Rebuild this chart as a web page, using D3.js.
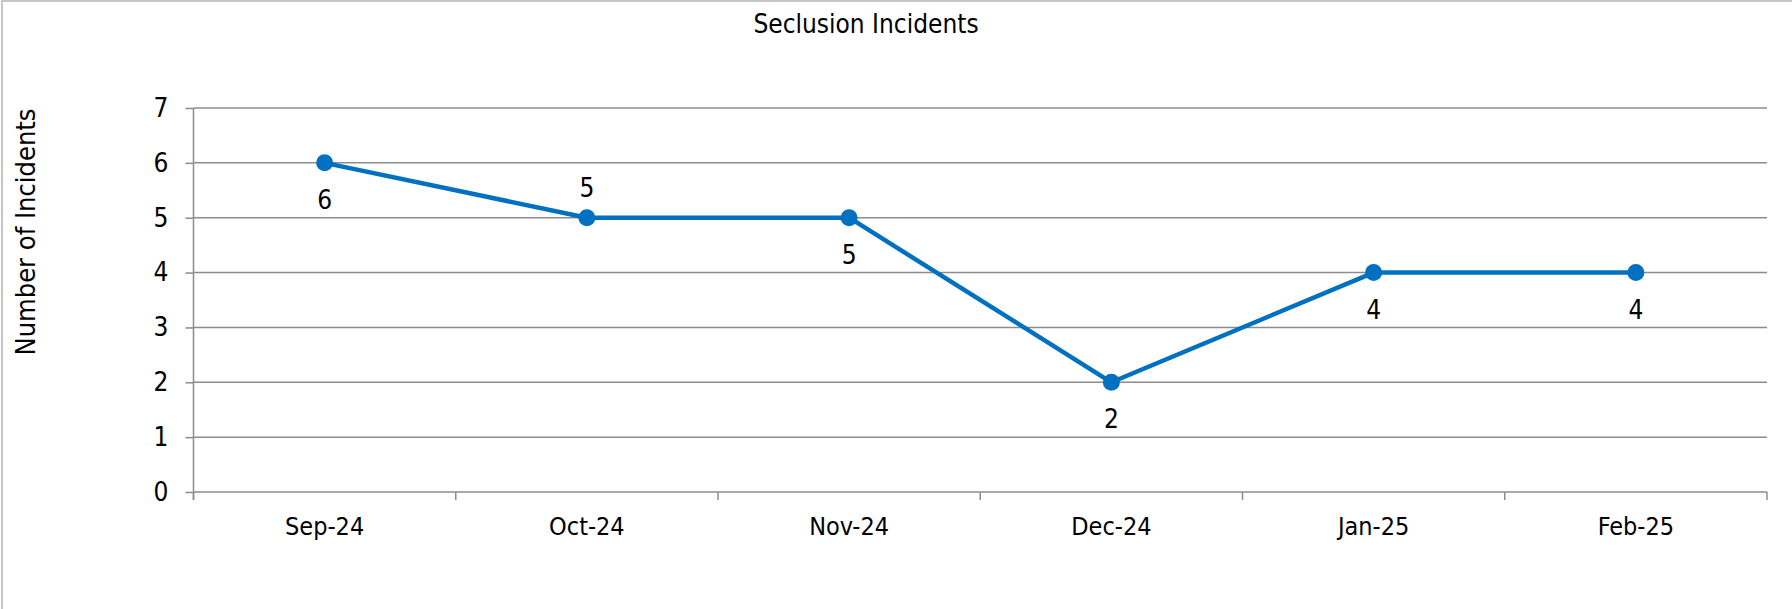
<!DOCTYPE html>
<html>
<head>
<meta charset="utf-8">
<script src="https://cdn.jsdelivr.net/npm/d3@7"></script>
<style>
  body { margin: 0; background: #fff; overflow: hidden; }
  svg { display: block; }
  text { font-family: "DejaVu Sans Condensed", "DejaVu Sans", sans-serif; font-stretch: condensed; fill: #000; }
</style>
</head>
<body>
<div id="chart"></div>
<script>
// data
var months = ["Sep-24", "Oct-24", "Nov-24", "Dec-24", "Jan-25", "Feb-25"];
var incidents = [6, 5, 5, 2, 4, 4];
var labelAbove = [false, true, false, false, false, false];
var yTicks = [0, 1, 2, 3, 4, 5, 6, 7];

var svgWidth = 1792, svgHeight = 609;
var margin = {top: 108, right: 25, bottom: 117, left: 193.5};
var innerWidth = svgWidth - margin.left - margin.right;
var innerHeight = svgHeight - margin.top - margin.bottom;
var lineColor = "#0070c0";
var gridColor = "#8c8c8c";

var svg = d3.select("#chart").append("svg")
    .attr("width", svgWidth)
    .attr("height", svgHeight);

// chart frame, only left and top edge show in the original
svg.append("path")
    .attr("d", "M2," + svgHeight + " L2,1 L" + svgWidth + ",1")
    .attr("fill", "none")
    .attr("stroke", "#b4b4b4")
    .attr("stroke-width", 1.5);

svg.append("text")
    .attr("x", 866)
    .attr("y", 33)
    .attr("text-anchor", "middle")
    .style("font-size", "26px")
    .text("Seclusion Incidents");

svg.append("text")
    .attr("transform", "translate(26," + 232 + ") rotate(-90)")
    .attr("text-anchor", "middle")
    .attr("dy", ".35em")
    .style("font-size", "27px")
    .text("Number of Incidents");

var g = svg.append("g")
    .attr("transform", "translate(" + margin.left + "," + margin.top + ")");

var xScale = d3.scaleBand()
    .domain(months)
    .range([0, innerWidth]);

var yScale = d3.scaleLinear()
    .domain([0, 7])
    .range([innerHeight, 0]);

// gridlines
g.append("g")
    .selectAll("line")
    .data(yTicks)
    .enter().append("line")
    .attr("x1", 0)
    .attr("x2", innerWidth)
    .attr("y1", d => yScale(d))
    .attr("y2", d => yScale(d))
    .attr("stroke", gridColor)
    .attr("stroke-width", 1.5);

var yAxis = d3.axisLeft(yScale)
    .tickValues(yTicks)
    .tickSize(8)
    .tickPadding(17)
    .tickFormat(d3.format("d"));

var yAxisG = g.append("g").call(yAxis);
yAxisG.select(".domain").remove();
yAxisG.selectAll(".tick line").attr("stroke", gridColor).attr("stroke-width", 1.5);
yAxisG.selectAll(".tick text").style("font-size", "26px");

// vertical axis line
g.append("line")
    .attr("x1", 0).attr("x2", 0)
    .attr("y1", 0).attr("y2", innerHeight + 8)
    .attr("stroke", gridColor)
    .attr("stroke-width", 1.5);

// category boundary ticks
var bounds = months.map(m => xScale(m)).concat([innerWidth]);
g.append("g")
    .selectAll("line")
    .data(bounds)
    .enter().append("line")
    .attr("x1", d => d).attr("x2", d => d)
    .attr("y1", innerHeight).attr("y2", innerHeight + 8)
    .attr("stroke", gridColor)
    .attr("stroke-width", 1.5);

g.append("g")
    .selectAll("text")
    .data(months)
    .enter().append("text")
    .attr("x", d => xScale(d) + xScale.bandwidth() / 2)
    .attr("y", innerHeight + 43)
    .attr("text-anchor", "middle")
    .style("font-size", "25px")
    .text(d => d);

var cx = (d, i) => xScale(months[i]) + xScale.bandwidth() / 2;

var line = d3.line()
    .x(cx)
    .y(d => yScale(d));

g.append("path")
    .datum(incidents)
    .attr("d", line)
    .attr("fill", "none")
    .attr("stroke", lineColor)
    .attr("stroke-width", 4.5)
    .attr("stroke-linejoin", "round");

g.append("g")
    .selectAll("circle")
    .data(incidents)
    .enter().append("circle")
    .attr("cx", cx)
    .attr("cy", d => yScale(d))
    .attr("r", 8.5)
    .attr("fill", lineColor);

g.append("g")
    .selectAll("text")
    .data(incidents)
    .enter().append("text")
    .attr("x", cx)
    .attr("y", (d, i) => labelAbove[i] ? yScale(d) - 21 : yScale(d) + 46)
    .attr("text-anchor", "middle")
    .style("font-size", "26px")
    .text(d => d);
</script>
</body>
</html>
